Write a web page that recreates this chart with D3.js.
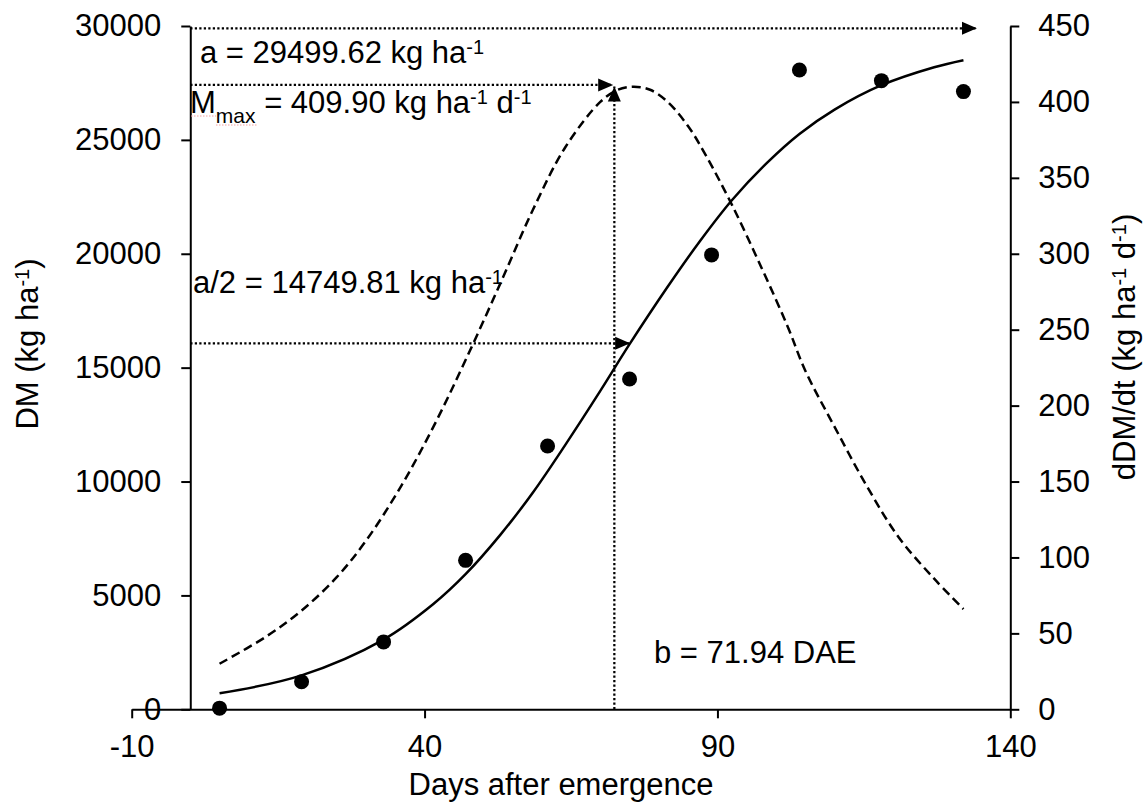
<!DOCTYPE html>
<html>
<head>
<meta charset="utf-8">
<script src="https://cdn.jsdelivr.net/npm/d3@7"></script>
<style>
  body { margin: 0; background: #fff; }
  svg { display: block; font-family: "Liberation Sans", Arial, sans-serif; }
</style>
</head>
<body>
<svg id="chart"></svg>
<script>
const w = 1143;
const h = 803;

// observed dry matter (kg/ha)
const obsDays = [5, 19, 33, 47, 61, 75, 89, 104, 118, 132];
const obsDM = [50, 1210, 2960, 6540, 11560, 14500, 19950, 28070, 27600, 27120];

// fitted DM curve
const fitDays = [5, 19, 33, 41.5, 47, 53, 58.5, 64, 70, 75, 81.5, 87, 92.5, 98.5, 104, 110, 118, 127, 132];
const fitDM = [700, 1490, 3060, 4620, 5930, 7680, 9520, 11600, 13980, 16030, 18550, 20550, 22360, 24000, 25260, 26330, 27400, 28190, 28500];

// dDM/dt curve (right axis)
const rateDays = [5, 13, 19, 25, 30, 36, 41.5, 47, 53, 58.5, 64, 70, 73, 75.7, 78.5, 81.5, 85, 88, 92.5, 97.5, 102, 105, 110, 115.5, 121, 127, 132];
const rateVal = [30, 48, 65, 87, 111, 147, 186, 230, 281, 329, 370, 400, 408, 410, 408, 400, 384, 365, 332, 291, 252, 223, 186, 147, 113, 86, 66];

const xTicks = [-10, 40, 90, 140];
const leftTicks = [0, 5000, 10000, 15000, 20000, 25000, 30000];
const rightTicks = [0, 50, 100, 150, 200, 250, 300, 350, 400, 450];

// dotted arrows (x in days, y in DM)
const guideX1 = [0, 0, 0, 72.4];
const guideY1 = [29900, 27410, 16070, 0];
const guideX2 = [134.3, 72.2, 75.1, 72.4];
const guideY2 = [29900, 27410, 16070, 27340];

const svg = d3.select('#chart')
    .attr('width', w)
    .attr('height', h);

const xScale = d3.scaleLinear()
    .domain([-10, 140])
    .range([131.7, 1010.3]);
const yScale = d3.scaleLinear()
    .domain([0, 30000])
    .range([709.3, 26]);
const y2Scale = d3.scaleLinear()
    .domain([0, 450])
    .range([709.3, 26]);

const fs = 31;
const plain = d => String(d);

svg.append('defs').append('marker')
    .attr('id', 'tri')
    .attr('markerUnits', 'userSpaceOnUse')
    .attr('markerWidth', 16)
    .attr('markerHeight', 14)
    .attr('refX', 15)
    .attr('refY', 7)
    .attr('orient', 'auto')
    .append('path')
    .attr('d', 'M0,0.5 L15,7 L0,13.5 Z')
    .attr('fill', '#000');

// axes
const styleAxis = g => {
    g.selectAll('path, line').attr('stroke', '#000').attr('stroke-width', 2);
    g.selectAll('text').attr('font-size', fs).attr('fill', '#000')
        .attr('font-family', '"Liberation Sans", Arial, sans-serif');
};

const xAxis = d3.axisBottom(xScale)
    .tickValues(xTicks)
    .tickFormat(plain)
    .tickSize(9)
    .tickSizeOuter(0)
    .tickPadding(17);
svg.append('g')
    .attr('transform', `translate(0,${yScale(0)})`)
    .call(xAxis)
    .call(styleAxis);

const yAxis = d3.axisLeft(yScale)
    .tickValues(leftTicks)
    .tickFormat(plain)
    .tickSize(9)
    .tickSizeOuter(0)
    .tickPadding(20);
svg.append('g')
    .attr('transform', `translate(${xScale(0)},0)`)
    .call(yAxis)
    .call(styleAxis);

const y2Axis = d3.axisRight(y2Scale)
    .tickValues(rightTicks)
    .tickFormat(plain)
    .tickSize(9)
    .tickSizeOuter(0)
    .tickPadding(19);
svg.append('g')
    .attr('transform', `translate(${xScale(140)},0)`)
    .call(y2Axis)
    .call(styleAxis);

// axis titles
svg.append('text')
    .attr('x', 561)
    .attr('y', 795)
    .attr('text-anchor', 'middle')
    .attr('font-size', fs)
    .text('Days after emergence');

const leftTitle = svg.append('text')
    .attr('transform', 'translate(38,344) rotate(-90)')
    .attr('text-anchor', 'middle')
    .attr('font-size', fs);
leftTitle.append('tspan').text('DM (kg ha');
leftTitle.append('tspan').attr('font-size', 20).attr('dy', -9).text('-1');
leftTitle.append('tspan').attr('dy', 9).text(')');

const rightTitle = svg.append('text')
    .attr('transform', 'translate(1135,347) rotate(-90)')
    .attr('text-anchor', 'middle')
    .attr('font-size', fs);
rightTitle.append('tspan').text('dDM/dt (kg ha');
rightTitle.append('tspan').attr('font-size', 20).attr('dy', -9).text('-1');
rightTitle.append('tspan').attr('dy', 9).text(' d');
rightTitle.append('tspan').attr('font-size', 20).attr('dy', -9).text('-1');
rightTitle.append('tspan').attr('dy', 9).text(')');

// dotted guide arrows
svg.selectAll('line.guide')
    .data(guideX1.map((d, i) => i))
    .enter()
    .append('line')
    .attr('class', 'guide')
    .attr('x1', i => xScale(guideX1[i]))
    .attr('y1', i => yScale(guideY1[i]))
    .attr('x2', i => xScale(guideX2[i]))
    .attr('y2', i => yScale(guideY2[i]))
    .attr('stroke', '#000')
    .attr('stroke-width', 2.25)
    .attr('stroke-dasharray', '2.25 2.25')
    .attr('marker-end', 'url(#tri)');

// fitted curves
const fitLine = d3.line()
    .x(i => xScale(fitDays[i]))
    .y(i => yScale(fitDM[i]))
    .curve(d3.curveCatmullRom.alpha(0.5));
svg.append('path')
    .attr('d', fitLine(fitDays.map((d, i) => i)))
    .attr('fill', 'none')
    .attr('stroke', '#000')
    .attr('stroke-width', 2.5);

const rateLine = d3.line()
    .x(i => xScale(rateDays[i]))
    .y(i => y2Scale(rateVal[i]))
    .curve(d3.curveCatmullRom.alpha(0.5));
svg.append('path')
    .attr('d', rateLine(rateDays.map((d, i) => i)))
    .attr('fill', 'none')
    .attr('stroke', '#000')
    .attr('stroke-width', 2.5)
    .attr('stroke-dasharray', '9 5');

// observed points
svg.selectAll('circle')
    .data(obsDays.map((d, i) => i))
    .enter()
    .append('circle')
    .attr('cx', i => xScale(obsDays[i]))
    .attr('cy', i => yScale(obsDM[i]))
    .attr('r', 7.5)
    .attr('fill', '#000');

// annotations
const tA = svg.append('text').attr('x', 200).attr('y', 63).attr('font-size', fs);
tA.append('tspan').text('a = 29499.62 kg ha');
tA.append('tspan').attr('font-size', 20).attr('dy', -9).text('-1');

const tM = svg.append('text').attr('x', 190).attr('y', 113).attr('font-size', fs);
tM.append('tspan').text('M');
tM.append('tspan').attr('font-size', 21).attr('dy', 10).text('max');
tM.append('tspan').attr('dy', -10).text(' = 409.90 kg ha');
tM.append('tspan').attr('font-size', 20).attr('dy', -9).text('-1');
tM.append('tspan').attr('dy', 9).text(' d');
tM.append('tspan').attr('font-size', 20).attr('dy', -9).text('-1');

// spell-check squiggle under "Mmax" in the original
svg.append('path')
    .attr('d', 'M191,116 L216,116 M216,125 L258,125')
    .attr('stroke', '#f2a0a0')
    .attr('stroke-width', 1)
    .attr('stroke-dasharray', '1.5 1.5')
    .attr('fill', 'none');

const tH = svg.append('text').attr('x', 193).attr('y', 293).attr('font-size', fs);
tH.append('tspan').text('a/2 = 14749.81 kg ha');
tH.append('tspan').attr('font-size', 20).attr('dy', -9).text('-1');

svg.append('text')
    .attr('x', 654)
    .attr('y', 663)
    .attr('font-size', fs)
    .text('b = 71.94 DAE');
</script>
</body>
</html>
